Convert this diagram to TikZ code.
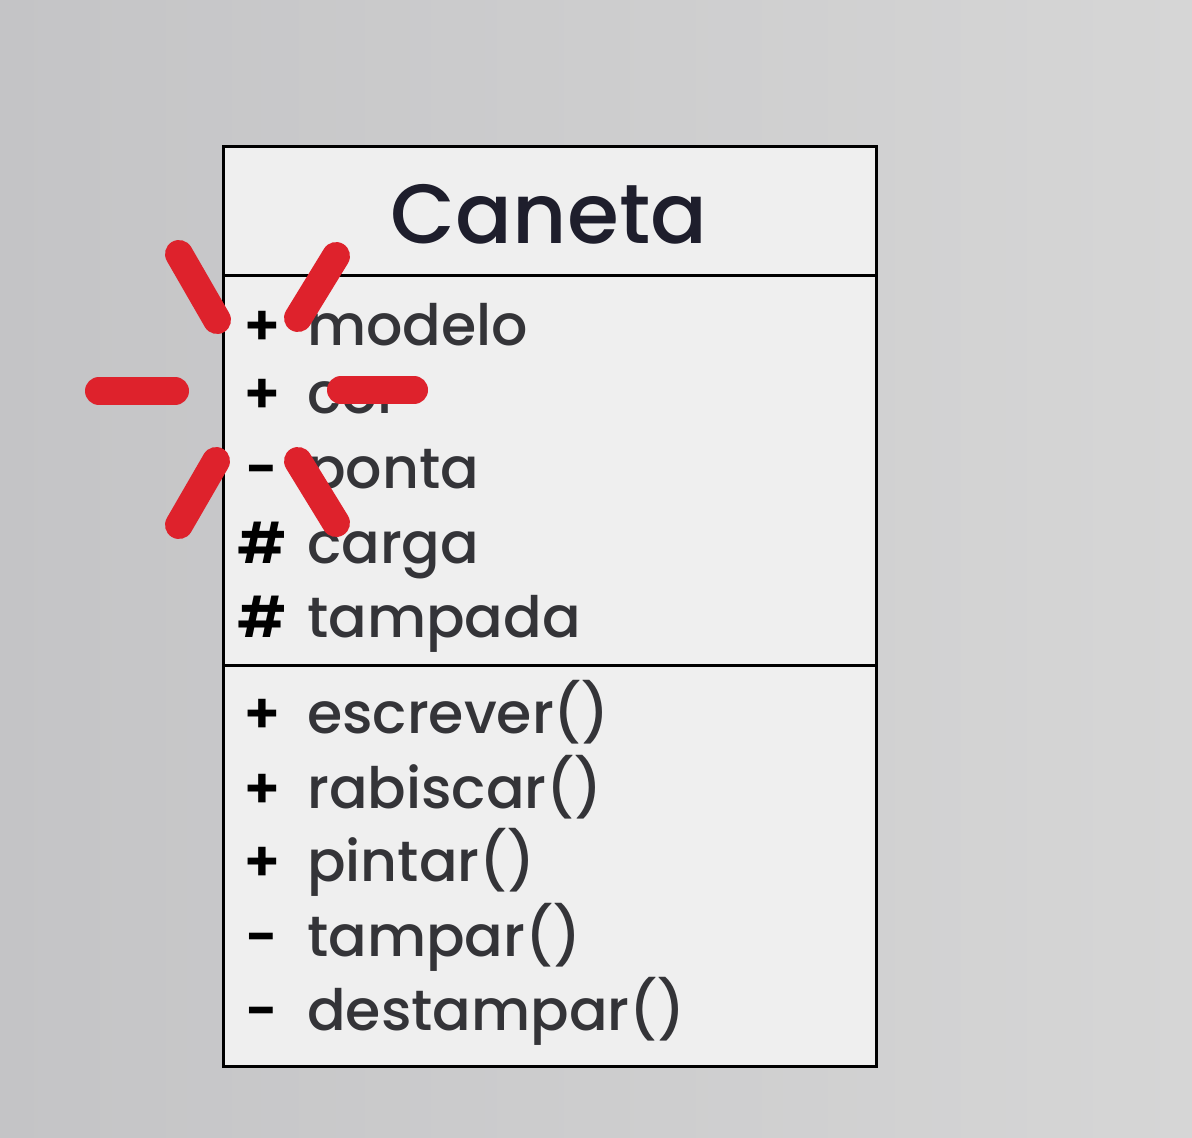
\documentclass[tikz,border=0pt]{standalone}
\usepackage{fontspec}
\setmainfont{Poppins}
\newfontfamily\medfont{Poppins Medium}
\newfontfamily\semifont{Poppins SemiBold}
\definecolor{bgleft}{RGB}{196,196,198}
\definecolor{bgright}{RGB}{214,214,214}
\definecolor{boxfill}{RGB}{239,239,239}
\definecolor{txtgray}{RGB}{52,52,56}
\definecolor{titlecol}{RGB}{30,30,44}
\definecolor{markred}{RGB}{222,34,44}
\begin{document}
\begin{tikzpicture}[x=1pt,y=-1pt,
    sym/.style={anchor=base, inner sep=0pt, text=black, font=\semifont\fontsize{56}{60}\selectfont},
    member/.style={anchor=base west, inner sep=0pt, text=txtgray, font=\medfont\fontsize{57}{60}\selectfont},
    burst/.style={line width=28pt, line cap=round, markred}]

  % background
  \shade[left color=bgleft, right color=bgright] (0,0) rectangle (1192,1138);
  \useasboundingbox (0,0) rectangle (1192,1138);

  % class box
  \draw[line width=3pt, fill=boxfill] (223,146) rectangle (876,1066);
  \draw[line width=3pt] (223,275) -- (876,275);
  \draw[line width=3pt] (223,665) -- (876,665);

  \node[anchor=base, inner sep=0pt, text=titlecol, font=\medfont\fontsize{84}{90}\selectfont] (title) at (549,243) {Caneta};

  % attributes
  \node[sym] (s1) at (262,345) {+};
  \node[member] (a1) at (307,345) {modelo};
  \node[sym] (s2) at (262,413) {+};
  \node[member] (a2) at (307,413) {cor};
  \node[sym] (s3) at (262,488) {-};
  \node[member] (a3) at (307,488) {ponta};
  \node[sym] (s4) at (262,563) {\#};
  \node[member] (a4) at (307,563) {carga};
  \node[sym] (s5) at (262,637) {\#};
  \node[member] (a5) at (307,637) {tampada};

  % methods
  \node[sym] (s6) at (262,733) {+};
  \node[member] (m1) at (307,733) {escrever()};
  \node[sym] (s7) at (262,808) {+};
  \node[member] (m2) at (307,808) {rabiscar()};
  \node[sym] (s8) at (262,881) {+};
  \node[member] (m3) at (307,881) {pintar()};
  \node[sym] (s9) at (262,956) {-};
  \node[member] (m4) at (307,956) {tampar()};
  \node[sym] (s10) at (262,1030) {-};
  \node[member] (m5) at (307,1030) {destampar()};

  % red marks round cor
  \draw[burst] (179,254) -- (217,320);
  \draw[burst] (336,256) -- (298,318);
  \draw[burst] (99,391) -- (175,391);
  \draw[burst] (341,390) -- (414,390);
  \draw[burst] (216,461) -- (179,525);
  \draw[burst] (298,461) -- (336,523);

\end{tikzpicture}
\end{document}
